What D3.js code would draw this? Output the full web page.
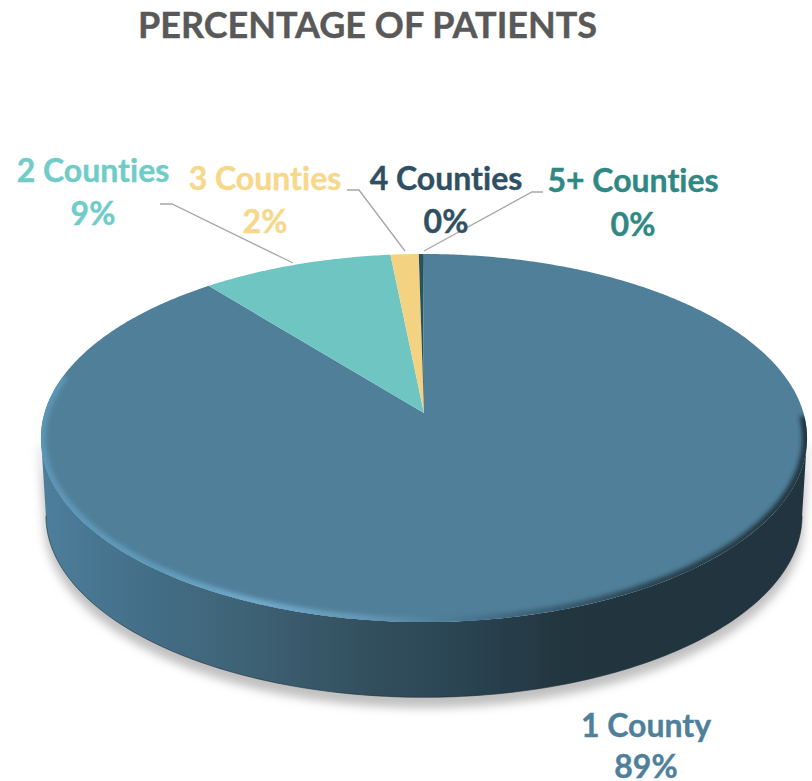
<!DOCTYPE html>
<html>
<head>
<meta charset="utf-8">
<script src="https://cdn.jsdelivr.net/npm/d3@7/dist/d3.min.js"></script>
<style>
html,body{margin:0;padding:0;background:#fff;overflow:hidden}
text{font-family:Lato,"Open Sans",sans-serif;font-weight:700;font-variant-ligatures:none;stroke-width:0.4px;paint-order:stroke}
</style>
</head>
<body>
<svg id="c" width="812" height="781"></svg>
<script>
const title = "PERCENTAGE OF PATIENTS";
const categories = ["1 County","2 Counties","3 Counties","4 Counties","5+ Counties"];
const values = [89.2, 9.2, 1.35, 0.2, 0.05];
const percentLabels = ["89%","9%","2%","0%","0%"];
const sliceColors = ["#507f99","#6fc5c2","#f3d282","#2f4f60","#2f8580"];
const textColors = ["#4f809b","#70ccc8","#f7d88a","#2f5062","#2f8884"];

// label layout: centre x, baseline of name, baseline of percent
const labelLayout = [
  {x:646,y1:737,y2:778},
  {x:93,y1:182,y2:225},
  {x:265,y1:190,y2:233},
  {x:446,y1:190,y2:233},
  {x:633,y1:192,y2:236}
];
const leaders = [
  [[160,204],[172,204],[293,263]],
  [[347,190],[359,190],[405,251]],
  [[543,192],[532,192],[424,251]]
];

// perspective projection of the pie disc
const cx=424, apexY=413, R=379.5, H=180.6, K=0.1359, depth=78, shrink=0.987;
function projectTop(a){
  const u=Math.sin(a), v=Math.cos(a), w=1+K*v;
  return [cx+R*u/w, apexY-H*v/w];
}
function projectBottom(a){
  const u=Math.sin(a), v=Math.cos(a), w=1+K*v;
  return [cx+shrink*R*u/w, apexY+depth-shrink*H*v/w];
}
const angleSamples=(a0,a1,n)=>d3.range(n+1).map(i=>a0+(a1-a0)*i/n);
const line=d3.line();

const svg=d3.select("#c");
const defs=svg.append("defs");
defs.append("filter").attr("id","shadowBlur").attr("x","-10%").attr("y","-10%").attr("width","120%").attr("height","120%")
  .append("feGaussianBlur").attr("stdDeviation",5);
defs.append("filter").attr("id","rimBlur").attr("x","-10%").attr("y","-10%").attr("width","120%").attr("height","120%")
  .append("feGaussianBlur").attr("stdDeviation",2);

const wallStops=[[0,"#4d7f9c"],[0.12,"#44708a"],[0.25,"#3f6478"],[0.42,"#33505f"],[0.55,"#2a4452"],[0.68,"#22363f"],[1,"#21343f"]];
const wallGrad=defs.append("linearGradient").attr("id","wall")
  .attr("gradientUnits","userSpaceOnUse").attr("x1",41).attr("x2",807).attr("y1",0).attr("y2",0);
wallStops.forEach(s=>wallGrad.append("stop").attr("offset",s[0]).attr("stop-color",s[1]));

const rimStops=[[0,"#5c96b6"],[0.15,"#5f9abb"],[0.28,"#70aacb"],[0.42,"#6398b6"],[0.52,"#507f99"],[0.62,"#3f677d"],[0.8,"#2a4452"],[1,"#22363f"]];
const rimGrad=defs.append("linearGradient").attr("id","rim")
  .attr("gradientUnits","userSpaceOnUse").attr("x1",41).attr("x2",807).attr("y1",0).attr("y2",0);
rimStops.forEach(s=>rimGrad.append("stop").attr("offset",s[0]).attr("stop-color",s[1]));

const TAU=Math.PI*2;
const extreme=Math.acos(-K); // angle of the widest point of the projected disc
const fullTop=angleSamples(0,TAU,240).map(projectTop);
defs.append("clipPath").attr("id","topClip").append("path").attr("d",line(fullTop)+"Z");

// front silhouette of the wall
const frontTop=angleSamples(extreme,TAU-extreme,160).map(projectTop);
const frontBottom=angleSamples(TAU-extreme,extreme,160).map(projectBottom);
const wallPath=line(frontTop.concat(frontBottom))+"Z";

// shadow
svg.append("path").attr("d",wallPath).attr("transform","translate(0,9)")
  .attr("fill","#c0c0c0").attr("stroke","#c0c0c0").attr("stroke-width",3).attr("filter","url(#shadowBlur)");

// side wall
svg.append("path").attr("d",wallPath).attr("fill","url(#wall)");
svg.append("path").attr("d",line(frontBottom)).attr("fill","none").attr("stroke","#1c2d37").attr("stroke-width",1).attr("opacity",0.6);

// top face slices
const pie=d3.pie().sort(null).startAngle(0).endAngle(TAU);
const arcs=pie(values);
svg.append("g").selectAll("path").data(arcs).join("path")
  .attr("d",d=>{
    const n=Math.max(2,Math.ceil((d.endAngle-d.startAngle)/0.01));
    return line([[cx,apexY]].concat(angleSamples(d.startAngle,d.endAngle,n).map(projectTop)))+"Z";
  })
  .attr("fill",(d,i)=>sliceColors[i]);

// bevel along the front rim
svg.append("g").attr("clip-path","url(#topClip)")
  .append("path")
  .attr("d",line(angleSamples(extreme-0.12,TAU-extreme+0.35,180).map(projectTop)))
  .attr("fill","none").attr("stroke","url(#rim)").attr("stroke-width",10)
  .attr("filter","url(#rimBlur)");

// leaders
svg.append("g").selectAll("path").data(leaders).join("path")
  .attr("d",d=>line(d)).attr("fill","none").attr("stroke","#a6a6a6").attr("stroke-width",1.3);

// labels
const lab=svg.append("g").selectAll("g").data(categories).join("g");
lab.append("text").attr("x",(d,i)=>labelLayout[i].x).attr("y",(d,i)=>labelLayout[i].y1)
  .attr("text-anchor","middle").attr("font-size",32).attr("fill",(d,i)=>textColors[i]).attr("stroke",(d,i)=>textColors[i]).text(d=>d);
lab.append("text").attr("x",(d,i)=>labelLayout[i].x).attr("y",(d,i)=>labelLayout[i].y2)
  .attr("text-anchor","middle").attr("font-size",32).attr("fill",(d,i)=>textColors[i]).attr("stroke",(d,i)=>textColors[i]).text((d,i)=>percentLabels[i]);

svg.append("text").attr("x",367.5).attr("y",38).attr("text-anchor","middle")
  .attr("font-size",36).attr("fill","#595959").attr("stroke","#595959").text(title);
</script>
</body>
</html>
